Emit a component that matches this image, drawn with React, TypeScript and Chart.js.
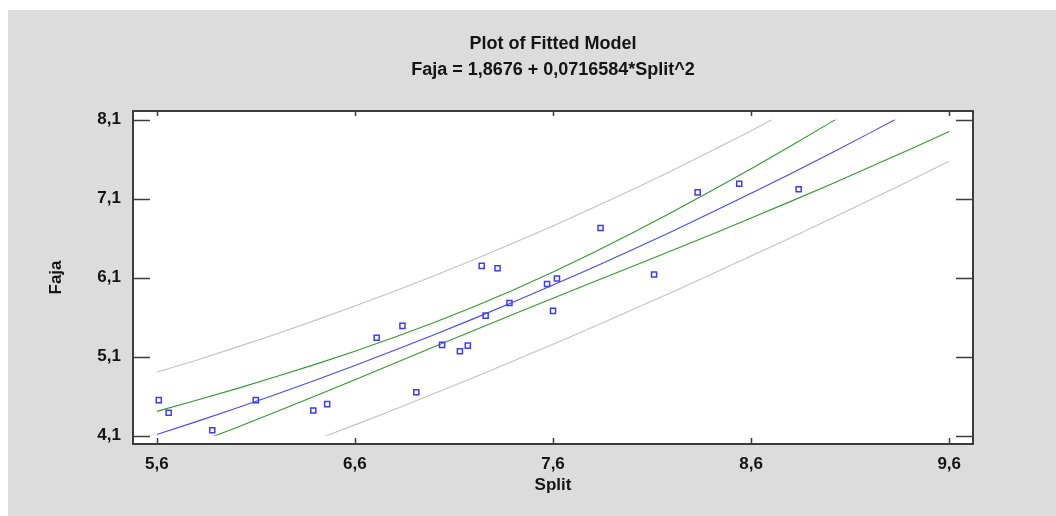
import React, { useEffect, useRef } from "react";
import { Chart, registerables } from "chart.js";

Chart.register(...registerables);

// Observed data (Split, Faja)
const pointsX = [5.61, 5.66, 5.88, 6.10, 6.39, 6.46, 6.71, 6.84, 6.91, 7.04, 7.13, 7.17, 7.24, 7.26, 7.32, 7.38, 7.57, 7.60, 7.62, 7.84, 8.11, 8.33, 8.54, 8.84];
const pointsY = [4.55, 4.39, 4.17, 4.55, 4.42, 4.50, 5.34, 5.49, 4.65, 5.25, 5.17, 5.24, 6.25, 5.62, 6.22, 5.78, 6.02, 5.68, 6.09, 6.73, 6.14, 7.18, 7.29, 7.22];

// Curves read at these Split values
const bandX = [5.6, 5.8, 6.0, 6.2, 6.4, 6.6, 6.8, 7.0, 7.2, 7.4, 7.6, 7.8, 8.0, 8.2, 8.4, 8.6, 8.8, 9.0, 9.2, 9.4, 9.6];
const fitted = [4.115, 4.278, 4.447, 4.622, 4.803, 4.989, 5.181, 5.379, 5.582, 5.792, 6.007, 6.227, 6.454, 6.686, 6.924, 7.168, 7.417, 7.672, 7.933, 8.199, 8.472];
const upperConf = [4.408, 4.548, 4.693, 4.845, 5.003, 5.170, 5.345, 5.532, 5.731, 5.945, 6.173, 6.414, 6.666, 6.928, 7.200, 7.480, 7.767, 8.063, 8.365, 8.675, 8.992];
const lowerConf = [3.821, 4.009, 4.202, 4.400, 4.602, 4.808, 5.017, 5.226, 5.433, 5.638, 5.840, 6.041, 6.242, 6.444, 6.648, 6.856, 7.066, 7.281, 7.500, 7.723, 7.951];
const upperPred = [4.902, 5.056, 5.218, 5.385, 5.560, 5.741, 5.929, 6.125, 6.328, 6.538, 6.755, 6.981, 7.214, 7.455, 7.704, 7.961, 8.227, 8.500, 8.781, 9.071, 9.368];
const lowerPred = [3.328, 3.500, 3.677, 3.859, 4.046, 4.237, 4.433, 4.633, 4.837, 5.046, 5.258, 5.474, 5.694, 5.917, 6.143, 6.374, 6.607, 6.844, 7.084, 7.328, 7.575];

const xTicks = [5.6, 6.6, 7.6, 8.6, 9.6];
const yTicks = [4.1, 5.1, 6.1, 7.1, 8.1];

const titleLines = ["Plot of Fitted Model", "Faja = 1,8676 + 0,0716584*Split^2"];
const xTitle = "Split";
const yTitle = "Faja";

const FONT = "'Liberation Sans', Arial, Helvetica, sans-serif";
const TEXT = "#141414";

const fmt = (v: number) => v.toFixed(1).replace(".", ",");
const toXY = (ys: number[]) => bandX.map((x, i) => ({ x, y: ys[i] }));

const bgPlugin = {
  id: "bg",
  beforeDraw(chart: any) {
    const { ctx, width, height, chartArea } = chart;
    ctx.save();
    ctx.fillStyle = "#ffffff";
    ctx.fillRect(0, 0, width, height);
    ctx.fillStyle = "#dcdcdc";
    ctx.fillRect(8, 10, width - 8, height - 10);
    ctx.fillStyle = "#ffffff";
    ctx.fillRect(chartArea.left, chartArea.top, chartArea.right - chartArea.left, chartArea.bottom - chartArea.top);
    ctx.restore();
  },
};

const clipPlugin = {
  id: "bandClip",
  beforeDatasetDraw(chart: any, args: any) {
    const ds = chart.data.datasets[args.index];
    if (!ds.showLine) return;
    const xs = chart.scales.x;
    const ys = chart.scales.y;
    const l = xs.getPixelForValue(xTicks[0]);
    const r = xs.getPixelForValue(xTicks[xTicks.length - 1]);
    const t = ys.getPixelForValue(yTicks[yTicks.length - 1]);
    const b = ys.getPixelForValue(yTicks[0]);
    chart.ctx.save();
    chart.ctx.beginPath();
    chart.ctx.rect(l, t, r - l, b - t);
    chart.ctx.clip();
  },
  afterDatasetDraw(chart: any, args: any) {
    const ds = chart.data.datasets[args.index];
    if (!ds.showLine) return;
    chart.ctx.restore();
  },
};

const framePlugin = {
  id: "frame",
  afterDraw(chart: any) {
    const { ctx, chartArea } = chart;
    const { left, right, top, bottom } = chartArea;
    const xs = chart.scales.x;
    const ys = chart.scales.y;
    ctx.save();
    ctx.strokeStyle = "#3c3c3c";
    ctx.lineWidth = 1.5;
    ctx.beginPath();
    xs.ticks.forEach((t: any) => {
      const px = Math.round(xs.getPixelForValue(t.value)) + 0.5;
      ctx.moveTo(px, top);
      ctx.lineTo(px, top + 5);
      ctx.moveTo(px, bottom);
      ctx.lineTo(px, bottom - 6);
    });
    ys.ticks.forEach((t: any) => {
      const py = Math.round(ys.getPixelForValue(t.value)) + 0.5;
      ctx.moveTo(left, py);
      ctx.lineTo(left + 17, py);
      ctx.moveTo(right, py);
      ctx.lineTo(right - 17, py);
    });
    ctx.stroke();
    ctx.lineWidth = 2;
    ctx.strokeRect(left, top, right - left, bottom - top);
    ctx.restore();
  },
};

export default function App() {
  const ref = useRef<HTMLCanvasElement | null>(null);

  useEffect(() => {
    if (!ref.current) return;
    const lineDs = (label: string, ys: number[], color: string) => ({
      label,
      data: toXY(ys),
      showLine: true,
      borderColor: color,
      borderWidth: 1.1,
      pointRadius: 0,
      fill: false,
      tension: 0,
      order: 1,
    });
    const chart = new Chart(ref.current, {
      type: "scatter",
      data: {
        datasets: [
          {
            label: "Observed",
            data: pointsX.map((x, i) => ({ x, y: pointsY[i] })),
            showLine: false,
            pointStyle: "rect",
            pointRadius: 3.6,
            pointBorderWidth: 1.5,
            pointBorderColor: "#3b3bff",
            pointBackgroundColor: "rgba(255,255,255,0)",
            order: 0,
          } as any,
          lineDs("Upper prediction", upperPred, "#c2c2c2"),
          lineDs("Lower prediction", lowerPred, "#c2c2c2"),
          lineDs("Upper confidence", upperConf, "#34982f"),
          lineDs("Lower confidence", lowerConf, "#34982f"),
          lineDs("Fitted", fitted, "#4646ff"),
        ],
      },
      options: {
        responsive: false,
        animation: false,
        layout: { padding: { top: 10, left: 8, right: 83, bottom: 0 } },
        plugins: {
          legend: { display: false },
          tooltip: { enabled: false },
          title: {
            display: true,
            fullSize: false,
            text: titleLines,
            color: TEXT,
            font: { family: FONT, size: 18, weight: "bold", lineHeight: 26 / 18 },
            padding: { top: 21, bottom: 28 },
          },
        },
        scales: {
          x: {
            type: "linear",
            min: 5.48,
            max: 9.72,
            grid: { display: false },
            border: { display: false },
            afterBuildTicks: (s: any) => {
              s.ticks = xTicks.map((v) => ({ value: v }));
            },
            afterFit: (s: any) => {
              s.height = 72;
            },
            ticks: {
              callback: (v: any) => fmt(Number(v)),
              color: TEXT,
              padding: 2,
              maxRotation: 0,
              font: { family: FONT, size: 17, weight: "bold" },
            },
            title: {
              display: true,
              text: xTitle,
              color: TEXT,
              font: { family: FONT, size: 17, weight: "bold" },
              padding: { top: 0, bottom: 20 },
            },
          },
          y: {
            type: "linear",
            min: 3.995,
            max: 8.21,
            grid: { display: false },
            border: { display: false },
            afterBuildTicks: (s: any) => {
              s.ticks = yTicks.map((v) => ({ value: v }));
            },
            afterFit: (s: any) => {
              s.width = 125;
            },
            ticks: {
              callback: (v: any) => fmt(Number(v)),
              color: TEXT,
              padding: 4,
              font: { family: FONT, size: 17, weight: "bold" },
            },
            title: {
              display: true,
              text: yTitle,
              color: TEXT,
              font: { family: FONT, size: 17, weight: "bold" },
              padding: { top: 38, bottom: 0 },
            },
          },
        },
      } as any,
      plugins: [bgPlugin, clipPlugin, framePlugin],
    });
    return () => chart.destroy();
  }, []);

  return (
    <div style={{ position: "fixed", left: 0, top: 0, width: 1056, height: 516, background: "#fff" }}>
      <canvas ref={ref} width={1056} height={516} style={{ display: "block", width: 1056, height: 516 }} />
    </div>
  );
}
